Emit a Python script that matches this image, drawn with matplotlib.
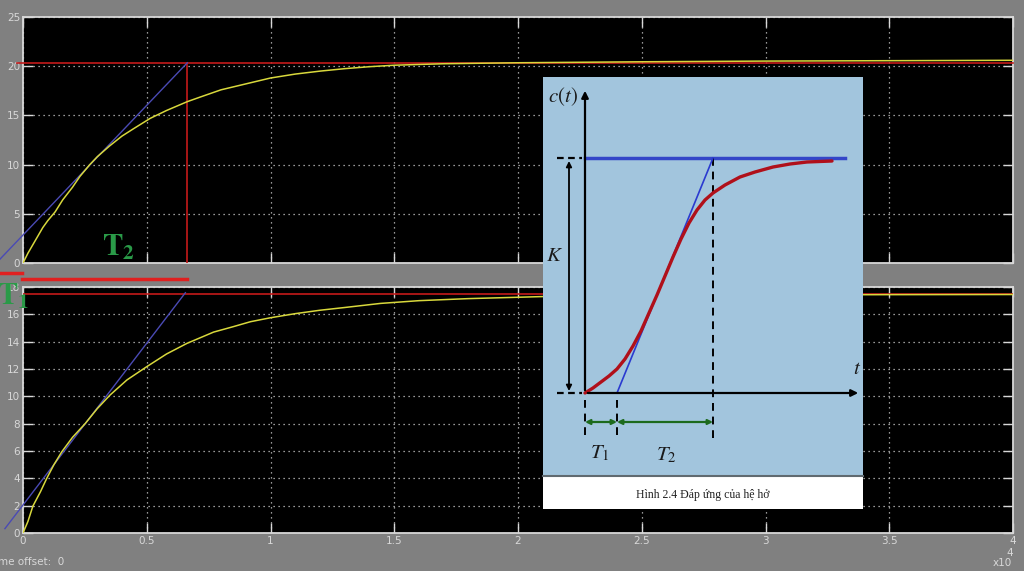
import matplotlib
matplotlib.use("Agg")
import matplotlib.pyplot as plt
import numpy as np

# ---------------- data (x in units of 1e4) ----------------
time_top = [0, 0.02, 0.05, 0.08, 0.1, 0.13, 0.16, 0.2, 0.23, 0.27, 0.3, 0.35, 0.4, 0.45, 0.514,
            0.58, 0.664, 0.72, 0.8, 0.9, 1.0, 1.1, 1.2, 1.3, 1.4, 1.5, 1.7, 2.0, 2.5, 3.0, 3.5, 4.0]
resp_top = [0, 1.0, 2.3, 3.6, 4.3, 5.2, 6.4, 7.7, 8.8, 10.0, 10.8, 11.9, 12.9, 13.7, 14.7,
            15.5, 16.4, 16.9, 17.6, 18.2, 18.8, 19.2, 19.5, 19.75, 19.95, 20.1, 20.25, 20.35,
            20.45, 20.52, 20.56, 20.6]
final_top = 20.35
tangent_top_x = [-0.093, 0.664]
tangent_top_y = [0.39, 20.35]
t2_mark = 0.664

time_bot = [0, 0.02, 0.04, 0.07, 0.096, 0.125, 0.157, 0.2, 0.251, 0.3, 0.352, 0.42, 0.5, 0.58,
            0.663, 0.77, 0.85, 0.919, 1.0, 1.1, 1.2, 1.3, 1.445, 1.6, 1.8, 2.1, 2.5, 3.0, 3.5, 4.0]
resp_bot = [0, 0.85, 1.97, 3.0, 4.0, 5.0, 5.95, 7.0, 8.0, 9.1, 10.1, 11.2, 12.17, 13.1,
            13.88, 14.7, 15.1, 15.46, 15.75, 16.05, 16.3, 16.5, 16.8, 17.0, 17.15, 17.3, 17.38,
            17.42, 17.44, 17.45]
final_bot = 17.5
tangent_bot_x = [-0.073, 0.656]
tangent_bot_y = [0.32, 17.58]

x_ticks = [0, 0.5, 1, 1.5, 2, 2.5, 3, 3.5, 4]
x_ticklabels = ["0", "0.5", "1", "1.5", "2", "2.5", "3", "3.5", "4"]
y_ticks_top = [0, 5, 10, 15, 20, 25]
y_ticks_bot = [0, 2, 4, 6, 8, 10, 12, 14, 16, 18]

# schematic diagram (inset) data, arbitrary units
diag_t = [0, 8, 16, 24, 32, 40, 48, 56, 64, 72, 80, 88, 96, 104, 112, 120, 128, 140, 155,
          170, 188, 205, 222, 247]
diag_c = [0, 5, 11, 17, 24, 34, 47, 62, 80, 98, 117, 136, 154, 170, 183, 193, 200, 208, 216,
          221, 226, 229, 231, 232]
diag_K = 235
diag_T1 = 32
diag_T2_end = 128

# ---------------- styling ----------------
BG = "#808080"
FG = "#d8d8d8"
YEL = "#d8d83c"
BLU = "#4a4ab4"
RED = "#c41a1a"
GREEN = "#2a9a48"

W, H = 1024, 571
fig = plt.figure(figsize=(W / 100, H / 100), dpi=100, facecolor=BG)


def px_axes(x0, y0, x1, y1):
    return fig.add_axes([x0 / W, 1 - y1 / H, (x1 - x0) / W, (y1 - y0) / H])


def style(ax, yticks, show_x):
    ax.set_facecolor("black")
    ax.set_xlim(0, 4)
    ax.set_xticks(x_ticks)
    ax.set_yticks(yticks)
    ax.set_ylim(yticks[0], yticks[-1])
    ax.set_xticklabels(x_ticklabels if show_x else [])
    ax.tick_params(direction="in", length=7, width=1, colors=FG, labelsize=7.5,
                   top=True, right=True, pad=2)
    for s in ax.spines.values():
        s.set_color(FG)
        s.set_linewidth(1.3)
    ax.grid(True, color="#c8c8c8", linestyle=(0, (1, 3)), linewidth=0.9)
    ax.set_axisbelow(True)


ax1 = px_axes(23, 17, 1013, 263)
style(ax1, y_ticks_top, False)
ax2 = px_axes(23, 287, 1013, 533)
style(ax2, y_ticks_bot, True)

# top plot
ax1.axhline(final_top, xmin=-0.006, xmax=1, color=RED, lw=1.2, clip_on=False, zorder=3)
ax1.plot([t2_mark, t2_mark], [0, final_top], color=RED, lw=1.2, zorder=3)
ax1.plot(tangent_top_x, tangent_top_y, color=BLU, lw=1, clip_on=False, zorder=3)
ax1.plot(time_top, resp_top, color=YEL, lw=1.1, zorder=4)
ax1.text(0.385, 1.6, r"$\mathbf{T_2}$", color=GREEN, fontsize=22, ha="center", va="center",
         math_fontfamily="stix", zorder=5)
# annotation bars in the gap
ax1.plot([-0.093, -0.004], [-0.99, -0.99], color="#e02020", lw=2.5, clip_on=False, zorder=5)
ax1.plot([-0.004, t2_mark], [-1.63, -1.63], color="#e02020", lw=2.5, clip_on=False, zorder=5)

# bottom plot
ax2.axhline(final_bot, color=RED, lw=1.2, zorder=3)
ax2.plot(tangent_bot_x, tangent_bot_y, color=BLU, lw=1, clip_on=False, zorder=3)
ax2.plot(time_bot, resp_bot, color=YEL, lw=1.1, zorder=4)
fig.text(-3 / W, 1 - 296 / H, r"$\mathbf{T_1}$", color=GREEN, fontsize=22, ha="left", va="center",
         math_fontfamily="stix", zorder=1)

fig.text(993 / W, 1 - 563 / H, "x10", color=FG, fontsize=7.5, ha="left", va="center")
fig.text(1010 / W, 1 - 553 / H, "4", color=FG, fontsize=7.5, ha="center", va="center")
fig.text(-2 / W, 1 - 562 / H, "me offset:  0", color=FG, fontsize=7.5, ha="left", va="center")

# ---------------- inset schematic ----------------
ax_in = px_axes(543, 77, 863, 476)
ax_in.set_facecolor("#a2c5dd")
ax_in.set_xlim(-42, 278)
ax_in.set_ylim(-83, 316)
ax_in.set_xticks([])
ax_in.set_yticks([])
for s in ax_in.spines.values():
    s.set_visible(False)

arrow_kw = dict(arrowstyle="-|>", color="black", lw=1.6, mutation_scale=10)
ax_in.annotate("", xy=(0, 305), xytext=(0, 0), arrowprops=arrow_kw)
ax_in.annotate("", xy=(276, 0), xytext=(0, 0), arrowprops=arrow_kw)
ax_in.annotate("", xy=(-16, diag_K - 3), xytext=(-16, 2),
               arrowprops=dict(arrowstyle="<|-|>", color="black", lw=1.3, mutation_scale=8,
                               shrinkA=0, shrinkB=0))
ax_in.plot([0, 260], [diag_K, diag_K], color="#3446c8", lw=2.5)
ax_in.plot([-28, -3], [diag_K, diag_K], color="black", lw=1.6, ls=(0, (3, 2)))
ax_in.plot([-28, -3], [0, 0], color="black", lw=1.6, ls=(0, (3, 2)))
ax_in.plot([diag_T2_end, diag_T2_end], [diag_K, -50], color="black", lw=1.4, ls=(0, (4, 3)))
ax_in.plot([0, 0], [-7, -47], color="black", lw=1.4, ls=(0, (4, 3)))
ax_in.plot([diag_T1, diag_T1], [-7, -47], color="black", lw=1.4, ls=(0, (4, 3)))
ax_in.plot([diag_T1, diag_T2_end], [0, diag_K], color="#2a3ad0", lw=1.2)
ax_in.plot(diag_t, diag_c, color="#b0101a", lw=2.4, solid_capstyle="round")
green_kw = dict(arrowstyle="<|-|>", color="#1c6a1c", lw=1.6, mutation_scale=7, shrinkA=0, shrinkB=0)
ax_in.annotate("", xy=(0, -29), xytext=(diag_T1, -29), arrowprops=green_kw)
ax_in.annotate("", xy=(diag_T1, -29), xytext=(diag_T2_end, -29), arrowprops=green_kw)

mt = dict(math_fontfamily="stix", color="#1a1a1a")
ax_in.text(-22, 296, r"$c(t)$", fontsize=15, ha="center", va="center", **mt)
ax_in.text(-30, 138, r"$K$", fontsize=15, ha="center", va="center", **mt)
ax_in.text(272, 25, r"$t$", fontsize=15, ha="center", va="center", **mt)
ax_in.text(15, -60, r"$T_1$", fontsize=15, ha="center", va="center", **mt)
ax_in.text(81, -62, r"$T_2$", fontsize=15, ha="center", va="center", **mt)

ax_cap = px_axes(543, 476, 863, 509)
ax_cap.set_facecolor("white")
ax_cap.set_xticks([])
ax_cap.set_yticks([])
for k, s in ax_cap.spines.items():
    s.set_visible(k == "top")
ax_cap.spines["top"].set_color("#606a70")
ax_cap.spines["top"].set_linewidth(1.5)
ax_cap.text(0.5, 0.42, "Hình 2.4 Đáp ứng của hệ hở", transform=ax_cap.transAxes,
            fontsize=8.5, family="Liberation Serif", ha="center", va="center", color="#222222")

fig.savefig("out.png", dpi=100, facecolor=BG)
